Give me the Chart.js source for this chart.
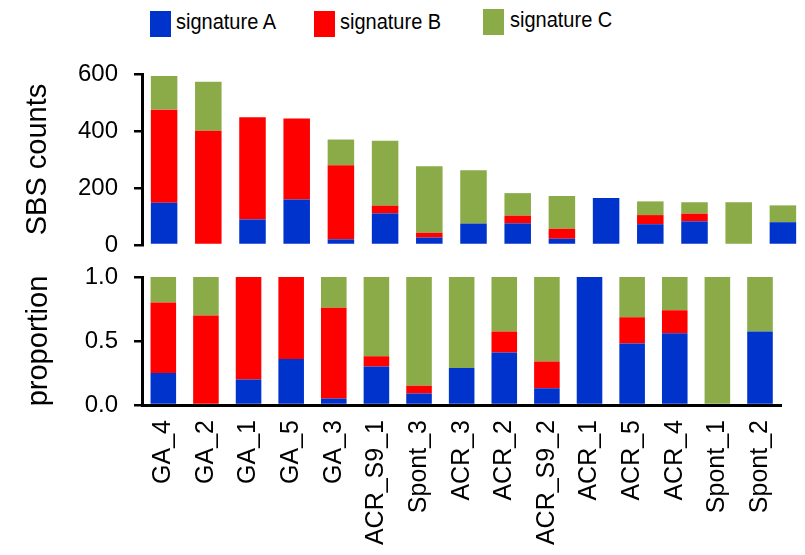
<!DOCTYPE html>
<html>
<head>
<meta charset="utf-8">
<script src="https://cdn.jsdelivr.net/npm/chart.js@4"></script>
<style>
  body { margin: 0; background: #fff; font-family: "Liberation Sans", Arial, sans-serif; }
  #page { position: relative; width: 805px; height: 555px; overflow: hidden; }
  .box { position: absolute; width: 21px; height: 26px; }
  .lbl { position: absolute; font-size: 20px; line-height: 20px; color: #000; white-space: nowrap;
         transform: scaleY(1.12); transform-origin: left bottom; }
  canvas { position: absolute; left: 0; }
</style>
</head>
<body>
<div id="page">
  <div class="box" style="left:150px;top:11px;background:#0033cc"></div>
  <div class="lbl" style="left:176px;top:12px">signature A</div>
  <div class="box" style="left:314px;top:11px;background:#ff0000"></div>
  <div class="lbl" style="left:340px;top:12px">signature B</div>
  <div class="box" style="left:483px;top:9px;background:#8aab48"></div>
  <div class="lbl" style="left:510px;top:10px">signature C</div>
  <canvas id="countChart" width="805" height="205" style="top:50px"></canvas>
  <canvas id="propChart" width="805" height="295" style="top:260px"></canvas>
</div>
<script>
// data
const samples = ['GA_4','GA_2','GA_1','GA_5','GA_3','ACR_S9_1','Spont_3','ACR_3','ACR_2','ACR_S9_2','ACR_1','ACR_5','ACR_4','Spont_1','Spont_2'];
const countsA = [148, 0, 90, 160, 20, 111, 26, 75, 76, 22, 165, 73, 83, 0, 80];
const countsB = [327, 401, 358, 284, 260, 27, 17, 0, 27, 35, 0, 32, 27, 0, 0];
const countsC = [118, 172, 0, 0, 90, 228, 233, 187, 79, 115, 0, 48, 40, 150, 59];
const propA = [0.25, 0, 0.20, 0.36, 0.05, 0.30, 0.09, 0.29, 0.41, 0.13, 1, 0.48, 0.56, 0, 0.575];
const propB = [0.55, 0.70, 0.80, 0.64, 0.71, 0.08, 0.06, 0, 0.165, 0.21, 0, 0.205, 0.18, 0, 0];
const propC = [0.20, 0.30, 0, 0, 0.24, 0.62, 0.85, 0.71, 0.425, 0.66, 0, 0.315, 0.26, 1, 0.425];
const countTicks = [0, 200, 400, 600];
const propTicks = [0, 0.5, 1];

const colA = '#0033cc', colB = '#ff0000', colC = '#8aab48';

Chart.defaults.font.family = '"Liberation Sans", Arial, sans-serif';
Chart.defaults.color = '#000';

function sets(a, b, c) {
    return [
        {label: 'signature A', data: a, backgroundColor: colA},
        {label: 'signature B', data: b, backgroundColor: colB},
        {label: 'signature C', data: c, backgroundColor: colC}
    ].map(d => Object.assign(d, {barPercentage: 0.6, categoryPercentage: 1, stack: 's'}));
}

function yAxis(max, title, titlePad, fmt, tickVals) {
    return {
        stacked: true, min: 0, max: max,
        afterBuildTicks: s => { s.ticks = tickVals.map(v => ({value: v})); },
        // fixed width, and keep tick label padding from shrinking the plot area
        afterFit: s => { s.width = 142; s.paddingTop = 0; s.paddingBottom = 0; },
        border: {display: true, width: 3, color: '#000'},
        grid: {drawOnChartArea: false, drawTicks: true, tickLength: 8, lineWidth: 2.5, color: '#000'},
        ticks: {padding: 16, font: {size: 24}, callback: fmt},
        title: {display: true, text: title, font: {size: 29}, padding: {top: titlePad, bottom: 0}}
    };
}

const common = {
    responsive: false,
    animation: false,
    plugins: {legend: {display: false}, tooltip: {enabled: false}}
};

/* top: SBS counts */
new Chart(document.getElementById('countChart'), {
    type: 'bar',
    data: {labels: samples, datasets: sets(countsA, countsB, countsC)},
    options: Object.assign({}, common, {
        layout: {padding: {top: 24, bottom: 10, left: 0, right: 0}},
        scales: {
            x: {stacked: true, display: false},
            y: yAxis(600, 'SBS counts', 21, v => v, countTicks)
        }
    })
});

/* bottom: proportion */
new Chart(document.getElementById('propChart'), {
    type: 'bar',
    data: {labels: samples, datasets: sets(propA, propB, propC)},
    options: Object.assign({}, common, {
        layout: {padding: {top: 17, bottom: 0, left: 0, right: 0}},
        scales: {
            x: {
                stacked: true,
                afterFit: s => { s.height = 150; },
                border: {display: true, width: 3, color: '#000'},
                grid: {display: false, drawTicks: false},
                ticks: {autoSkip: false, minRotation: 90, maxRotation: 90, padding: 15, font: {size: 25}}
            },
            y: yAxis(1, 'proportion', 22, v => Number(v).toFixed(1), propTicks)
        }
    })
});
</script>
</body>
</html>
